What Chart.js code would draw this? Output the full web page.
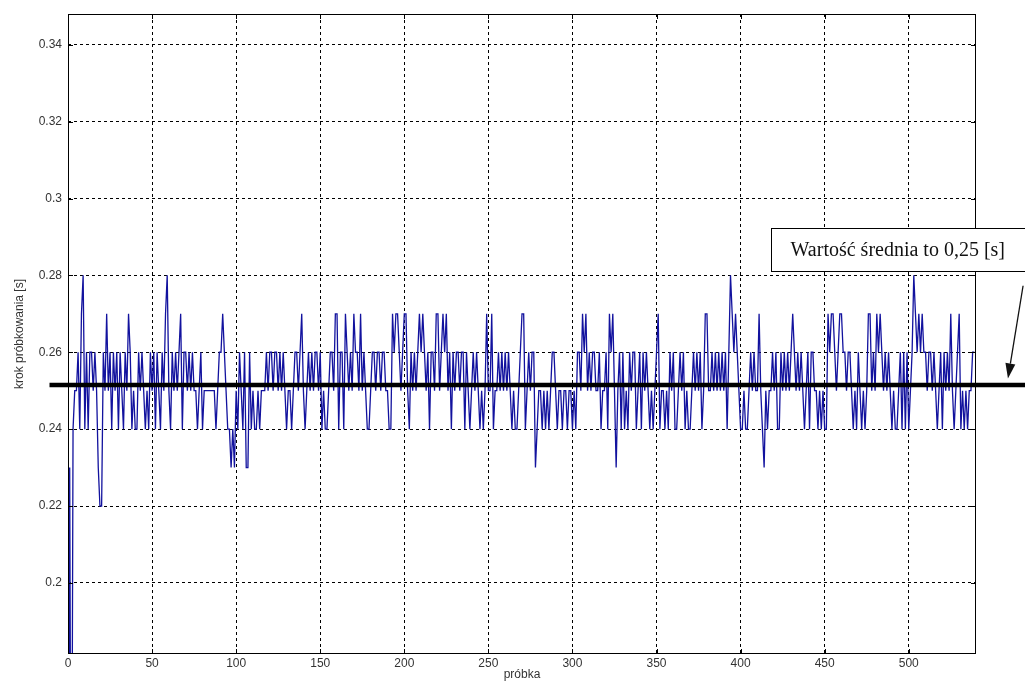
<!DOCTYPE html>
<html>
<head>
<meta charset="utf-8">
<title>krok próbkowania</title>
<script src="https://cdn.jsdelivr.net/npm/chart.js"></script>
<style>
  html, body { margin: 0; padding: 0; background: #ffffff; }
  #wrap { width: 1025px; height: 682px; }
</style>
</head>
<body>
<div id="wrap"><canvas id="stepChart" width="1025" height="682"></canvas></div>
<script>
// krok próbkowania [s] for each sample (0..539)
const samples000 = [
  0.10,0.23,0.10,0.24,0.25,0.25,0.26,0.24,0.27,0.28,
  0.24,0.26,0.24,0.26,0.26,0.25,0.26,0.25,0.23,0.22,
  0.22,0.26,0.25,0.27,0.25,0.26,0.24,0.26,0.25,0.26,
  0.24,0.26,0.25,0.24,0.26,0.25,0.27,0.26,0.24,0.25,
  0.24,0.24,0.26,0.25,0.26,0.25,0.24,0.25,0.24,0.26,
  0.25,0.26,0.24,0.26,0.25,0.24,0.26,0.25,0.27,0.28,
  0.25,0.24,0.26,0.25,0.26,0.25,0.26,0.27,0.24,0.26,
  0.26,0.25,0.26,0.25,0.26,0.25,0.25,0.24,0.25,0.26,
  0.24,0.25,0.25,0.25,0.25,0.25,0.25,0.25,0.24,0.25
];
const samples090 = [
  0.26,0.26,0.27,0.26,0.25,0.24,0.24,0.23,0.24,0.23,
  0.25,0.24,0.26,0.25,0.24,0.26,0.23,0.23,0.26,0.24,
  0.25,0.24,0.24,0.25,0.24,0.25,0.25,0.25,0.26,0.25,
  0.26,0.26,0.25,0.26,0.26,0.25,0.26,0.25,0.26,0.25,
  0.24,0.25,0.25,0.24,0.25,0.26,0.26,0.25,0.26,0.27,
  0.25,0.24,0.25,0.26,0.25,0.26,0.25,0.26,0.26,0.25,
  0.26,0.24,0.25,0.24,0.24,0.25,0.26,0.26,0.25,0.27,
  0.27,0.24,0.26,0.26,0.24,0.27,0.26,0.25,0.26,0.25,
  0.27,0.26,0.26,0.25,0.27,0.25,0.26,0.25,0.24,0.24
];
const samples180 = [
  0.25,0.26,0.26,0.25,0.26,0.26,0.25,0.26,0.26,0.25,
  0.25,0.24,0.24,0.27,0.26,0.27,0.27,0.26,0.25,0.26,
  0.27,0.27,0.25,0.24,0.26,0.25,0.26,0.25,0.26,0.27,
  0.26,0.27,0.26,0.25,0.26,0.24,0.26,0.26,0.25,0.27,
  0.27,0.25,0.26,0.27,0.26,0.27,0.25,0.26,0.24,0.26,
  0.25,0.26,0.26,0.25,0.26,0.26,0.24,0.26,0.25,0.24,
  0.25,0.26,0.25,0.26,0.25,0.24,0.25,0.24,0.25,0.27,
  0.25,0.25,0.27,0.24,0.25,0.25,0.26,0.25,0.26,0.25,
  0.26,0.25,0.26,0.25,0.24,0.25,0.24,0.24,0.25,0.26
];
const samples270 = [
  0.27,0.27,0.24,0.25,0.26,0.25,0.26,0.26,0.23,0.24,
  0.25,0.25,0.24,0.25,0.24,0.25,0.24,0.25,0.26,0.26,
  0.25,0.24,0.25,0.25,0.24,0.25,0.25,0.24,0.25,0.25,
  0.24,0.25,0.24,0.26,0.26,0.25,0.27,0.26,0.27,0.25,
  0.26,0.25,0.26,0.26,0.25,0.25,0.26,0.24,0.25,0.25,
  0.26,0.24,0.27,0.26,0.27,0.25,0.23,0.25,0.26,0.24,
  0.26,0.24,0.25,0.24,0.26,0.25,0.26,0.26,0.24,0.25,
  0.26,0.24,0.26,0.25,0.26,0.25,0.24,0.25,0.24,0.25,
  0.26,0.27,0.24,0.25,0.25,0.24,0.25,0.24,0.26,0.25
];
const samples360 = [
  0.26,0.24,0.24,0.25,0.26,0.25,0.26,0.24,0.25,0.24,
  0.24,0.25,0.26,0.25,0.26,0.25,0.26,0.24,0.25,0.27,
  0.27,0.25,0.25,0.26,0.25,0.26,0.25,0.26,0.25,0.26,
  0.25,0.26,0.24,0.26,0.28,0.27,0.26,0.27,0.26,0.25,
  0.24,0.24,0.25,0.24,0.24,0.25,0.26,0.25,0.26,0.25,
  0.25,0.27,0.25,0.24,0.23,0.25,0.24,0.25,0.25,0.26,
  0.25,0.26,0.24,0.24,0.26,0.25,0.26,0.25,0.26,0.25,
  0.26,0.27,0.26,0.25,0.26,0.25,0.26,0.25,0.24,0.25,
  0.26,0.24,0.26,0.26,0.25,0.25,0.24,0.25,0.24,0.25
];
const samples450 = [
  0.24,0.24,0.27,0.26,0.27,0.27,0.26,0.25,0.26,0.27,
  0.27,0.26,0.26,0.25,0.26,0.26,0.25,0.24,0.25,0.24,
  0.26,0.25,0.24,0.25,0.24,0.25,0.27,0.27,0.25,0.26,
  0.25,0.27,0.26,0.27,0.26,0.25,0.26,0.25,0.26,0.25,
  0.24,0.25,0.24,0.24,0.25,0.26,0.24,0.26,0.24,0.26,
  0.24,0.25,0.26,0.28,0.27,0.26,0.27,0.26,0.27,0.26,
  0.26,0.25,0.26,0.26,0.25,0.26,0.25,0.24,0.25,0.26,
  0.24,0.26,0.25,0.26,0.25,0.27,0.25,0.24,0.25,0.26,
  0.27,0.24,0.25,0.24,0.25,0.24,0.25,0.25,0.26,0.26
];

const xTicks = [0, 50, 100, 150, 200, 250, 300, 350, 400, 450, 500];
const yTicks = [0.2, 0.22, 0.24, 0.26, 0.28, 0.3, 0.32, 0.34];
const meanValue = 0.2515;
const meanLineX = [-11, 570];
const noteText = "Wartość średnia to 0,25 [s]";

// where the note box and arrow sit, in axis units
const note = {
  left: 418, right: 569, top: 0.2922, bottom: 0.281,
  arrowFromX: 568, arrowFromY: 0.2773, arrowToX: 559, arrowToY: 0.2532
};

function buildPoints() {
  const all = samples000.concat(samples090, samples180, samples270, samples360, samples450);
  return all.map((v, i) => ({ x: i, y: v }));
}

const framePlugin = {
  id: "frame",
  afterDatasetsDraw(chart) {
    const a = chart.chartArea;
    const ctx = chart.ctx;
    ctx.save();
    ctx.strokeStyle = "#000";
    ctx.lineWidth = 1;
    ctx.strokeRect(a.left + 0.5, a.top + 0.5, a.right - a.left - 1, a.bottom - a.top - 1);
    // small inner tick marks like in matlab
    ctx.beginPath();
    chart.scales.x.ticks.forEach((t) => {
      const px = Math.round(chart.scales.x.getPixelForValue(t.value)) + 0.5;
      ctx.moveTo(px, a.bottom); ctx.lineTo(px, a.bottom - 5);
      ctx.moveTo(px, a.top); ctx.lineTo(px, a.top + 5);
    });
    chart.scales.y.ticks.forEach((t) => {
      const py = Math.round(chart.scales.y.getPixelForValue(t.value)) + 0.5;
      ctx.moveTo(a.left, py); ctx.lineTo(a.left + 5, py);
      ctx.moveTo(a.right, py); ctx.lineTo(a.right - 5, py);
    });
    ctx.stroke();
    ctx.restore();
  }
};

const notePlugin = {
  id: "note",
  afterDraw(chart) {
    const xs = chart.scales.x;
    const ys = chart.scales.y;
    const ctx = chart.ctx;
    const l = xs.getPixelForValue(note.left);
    const r = xs.getPixelForValue(note.right);
    const t = ys.getPixelForValue(note.top);
    const b = ys.getPixelForValue(note.bottom);
    ctx.save();
    ctx.fillStyle = "#fff";
    ctx.fillRect(l, t, r - l, b - t);
    ctx.strokeStyle = "#000";
    ctx.lineWidth = 1;
    ctx.strokeRect(Math.round(l) + 0.5, Math.round(t) + 0.5, Math.round(r - l), Math.round(b - t));
    ctx.fillStyle = "#111";
    ctx.font = "20px 'Liberation Serif', 'Times New Roman', serif";
    ctx.textAlign = "center";
    ctx.textBaseline = "middle";
    ctx.fillText(noteText, (l + r) / 2, (t + b) / 2 + 1);

    // arrow pointing at the mean line
    const x1 = xs.getPixelForValue(note.arrowFromX);
    const y1 = ys.getPixelForValue(note.arrowFromY);
    const x2 = xs.getPixelForValue(note.arrowToX);
    const y2 = ys.getPixelForValue(note.arrowToY);
    const ang = Math.atan2(y2 - y1, x2 - x1);
    const headLen = 15;
    const headW = 5;
    const bx = x2 - headLen * Math.cos(ang);
    const by = y2 - headLen * Math.sin(ang);
    ctx.strokeStyle = "#111";
    ctx.lineWidth = 1.3;
    ctx.beginPath();
    ctx.moveTo(x1, y1);
    ctx.lineTo(bx, by);
    ctx.stroke();
    ctx.fillStyle = "#111";
    ctx.beginPath();
    ctx.moveTo(x2, y2);
    ctx.lineTo(bx + headW * Math.sin(ang), by - headW * Math.cos(ang));
    ctx.lineTo(bx - headW * Math.sin(ang), by + headW * Math.cos(ang));
    ctx.closePath();
    ctx.fill();
    ctx.restore();
  }
};

document.addEventListener("DOMContentLoaded", function () {
  const ctx = document.getElementById("stepChart").getContext("2d");
  const tickFont = { family: "'Liberation Sans', Arial, sans-serif", size: 12 };

  new Chart(ctx, {
    type: "line",
    data: {
      datasets: [
        {
          label: "srednia",
          data: meanLineX.map((x) => ({ x: x, y: meanValue })),
          borderColor: "#000",
          borderWidth: 4.5,
          pointRadius: 0,
          clip: false,
          order: 0
        },
        {
          label: "krok",
          data: buildPoints(),
          borderColor: "#12129e",
          borderWidth: 1.3,
          pointRadius: 0,
          tension: 0,
          order: 1
        }
      ]
    },
    options: {
      responsive: false,
      animation: false,
      devicePixelRatio: 1,
      layout: { padding: { top: 14, right: 49, left: 0, bottom: 0 } },
      plugins: {
        legend: { display: false },
        tooltip: { enabled: false }
      },
      scales: {
        x: {
          type: "linear",
          min: 0,
          max: 540,
          afterBuildTicks: (s) => { s.ticks = xTicks.map((v) => ({ value: v })); },
          afterFit: (s) => { s.height = 28; },
          grid: { color: "#000", lineWidth: 1, drawTicks: false },
          border: { display: false, dash: [3, 3] },
          ticks: { padding: 2, color: "#333", font: tickFont, maxRotation: 0, autoSkip: false },
          title: { display: true, text: "próbka", color: "#333", font: tickFont, padding: { top: 0, bottom: 0 } }
        },
        y: {
          type: "linear",
          min: 0.1815,
          max: 0.348,
          afterBuildTicks: (s) => { s.ticks = yTicks.map((v) => ({ value: v })); },
          afterFit: (s) => { s.width = 68; },
          grid: { color: "#000", lineWidth: 1, drawTicks: false },
          border: { display: false, dash: [3, 3] },
          ticks: {
            padding: 6,
            color: "#333",
            font: tickFont,
            callback: (v) => String(+v.toFixed(2))
          },
          title: { display: true, text: "krok próbkowania [s]", color: "#333", font: tickFont, padding: { top: 12, bottom: 0 } }
        }
      }
    },
    plugins: [framePlugin, notePlugin]
  });
});
</script>
</body>
</html>
